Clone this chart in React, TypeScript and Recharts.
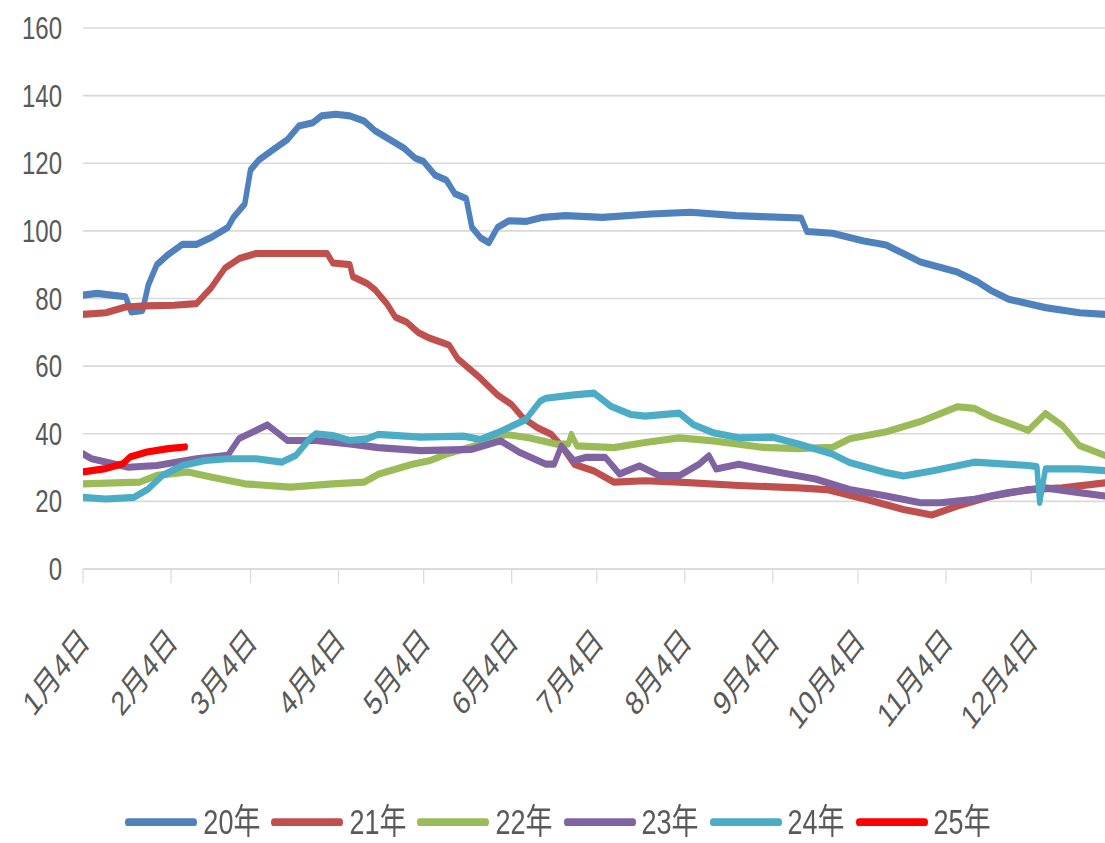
import React from 'react';
import { LineChart, Line, XAxis, YAxis, CartesianGrid } from 'recharts';

const FONT = '"Liberation Sans", Arial, "Noto Sans CJK SC", sans-serif';
const TEXT = '#595959';
const GRID = '#d9d9d9';

const W = 1105;
const H = 648;
const S = 843 / H;

// x = days since Jan 4
const monthTicks = [0, 31, 59, 90, 120, 151, 181, 212, 243, 273, 304, 334];
const monthLabels = ['1月4日', '2月4日', '3月4日', '4月4日', '5月4日', '6月4日', '7月4日', '8月4日', '9月4日', '10月4日', '11月4日', '12月4日'];
const yTicks = [0, 20, 40, 60, 80, 100, 120, 140, 160];

const seriesNames = ['20年', '21年', '22年', '23年', '24年', '25年'];
const seriesColors = ['#4F81BD', '#C0504D', '#9BBB59', '#8064A2', '#4BACC6', '#FF0000'];

const y20: [number, number][] = [
  [0, 81], [5, 81.5], [10, 81], [15, 80.5], [17, 76], [21, 76.5], [23, 84], [26, 90], [30, 93], [35, 96],
  [40, 96], [45, 98], [51, 101], [53, 104], [57, 108], [59, 118], [62, 121], [67, 124], [72, 127], [76, 131],
  [81, 132], [84, 134], [89, 134.5], [94, 134], [99, 132.5], [103, 129.5], [107, 127.5], [113, 124.5], [117, 121.5],
  [120, 120.5], [124, 116.5], [128, 115], [131, 111], [135, 109.5], [137, 101], [140, 98], [143, 96.5], [146, 101],
  [150, 103], [156, 102.8], [162, 104], [170, 104.5], [183, 104], [200, 105], [214, 105.5], [230, 104.5], [239, 104.2],
  [253, 103.8], [255, 99.8], [264, 99.3], [275, 97], [283, 95.8], [289, 93.3], [295, 90.8], [308, 87.8], [315, 85],
  [320, 82.3], [326, 79.8], [339, 77.3], [351, 75.8], [360, 75.3],
];

const y21: [number, number][] = [
  [0, 75.3], [8, 75.8], [15, 77.5], [22, 77.8], [32, 78], [40, 78.5], [45, 83], [50, 89], [55, 91.8], [61, 93.3],
  [70, 93.3], [80, 93.3], [86, 93.3], [88, 90.5], [94, 90], [95, 86.5], [100, 84.5], [103, 82.5], [107, 78.5],
  [110, 74.5], [114, 73], [118, 70], [122, 68.3], [129, 66.2], [132, 62.2], [140, 56.4], [146, 51.5], [151, 48.6],
  [155, 44.7], [160, 41.8], [165, 39.8], [168, 37], [173, 31], [180, 29], [187, 25.7], [198, 26.1], [210, 25.7],
  [231, 24.7], [252, 24], [262, 23.5], [276, 20.6], [289, 17.6], [299, 16], [308, 18.6], [320, 21.5], [333, 23.5],
  [345, 24], [360, 25.5],
];

const y22: [number, number][] = [
  [0, 25.2], [20, 25.7], [26, 27.7], [37, 28.7], [45, 27.2], [57, 25.2], [73, 24.2], [88, 25.2], [99, 25.7],
  [104, 28], [116, 31], [122, 32], [128, 34], [140, 36.9], [149, 39.8], [157, 38.8], [167, 36.9], [171, 37],
  [172, 39.8], [174, 36.4], [187, 35.9], [198, 37.4], [210, 38.8], [222, 37.9], [231, 36.9], [239, 36], [252, 35.6],
  [264, 36], [270, 38.5], [283, 40.6], [295, 43.6], [308, 48], [314, 47.5], [320, 45], [333, 41], [339, 46],
  [345, 42.4], [351, 36.5], [360, 33.6],
];

const y23: [number, number][] = [
  [0, 34.1], [3, 32.6], [16, 30.1], [26, 30.6], [40, 32.6], [51, 33.6], [55, 38.6], [65, 42.6], [72, 38], [82, 38],
  [94, 37], [104, 35.9], [119, 35], [137, 35.4], [147, 37.9], [154, 34.4], [163, 31], [166, 31], [168.5, 36.4],
  [173, 32], [177, 33], [184, 33], [189, 28.1], [196, 30.5], [203, 27.6], [210, 27.6], [217, 31], [220.5, 33.5],
  [223, 29.6], [231, 31], [245, 28.6], [258, 26.6], [270, 23.5], [283, 21.6], [295, 19.6], [302, 19.6], [314, 20.6],
  [326, 22.6], [339, 24], [351, 22.6], [360, 21.6],
];

const y24: [number, number][] = [
  [0, 21.2], [8, 20.7], [18, 21.2], [23, 23.7], [28, 27.7], [35, 30.6], [43, 32.1], [51, 32.6], [61, 32.6], [70, 31.6],
  [75, 33.6], [80, 38.6], [82, 40], [88, 39.5], [94, 38], [100, 38.5], [104, 39.8], [119, 39], [134, 39.3], [140, 38.3],
  [146, 40.3], [156, 44.2], [161, 49.6], [163, 50.5], [173, 51.5], [180, 52], [186, 48.1], [193, 45.7], [198, 45.2],
  [210, 46.1], [215, 42.7], [222, 40.3], [231, 38.8], [243, 39], [252, 37], [264, 34], [270, 31.5], [283, 28.5],
  [289, 27.5], [299, 29], [314, 31.6], [333, 30.6], [336, 30.3], [337, 19.7], [339, 29.6], [351, 29.6], [360, 29.1],
];

const y25: [number, number][] = [
  [0, 28.7], [8, 29.7], [14, 31.1], [16.5, 33.1], [22.5, 34.6], [30, 35.6], [36, 36.1],
];

const seriesPoints = [y20, y21, y22, y23, y24, y25];
const toRows = (pts: [number, number][]) => pts.map(([d, v]) => ({ d, v }));

const XTick = (props: any) => {
  const { x, y, payload } = props;
  const i = monthTicks.indexOf(payload.value);
  return (
    <g transform={`translate(${x + 8},${y + 44})`}>
      <text x={0} y={0} textAnchor="end" transform="rotate(-45)" fontSize={26} fill={TEXT} fontFamily={FONT}>
        {monthLabels[i]}
      </text>
    </g>
  );
};

export default function App() {
  return (
    <div
      style={{
        position: 'absolute',
        left: 0,
        top: 0,
        width: W,
        height: H,
        transform: `scaleY(${S})`,
        transformOrigin: '0 0',
        background: '#fff',
      }}
    >
      <LineChart width={W} height={H} margin={{ top: 21.5, right: 0, left: 0, bottom: 60.6 }}>
        <CartesianGrid vertical={false} stroke={GRID} strokeWidth={1.2} />
        <XAxis
          dataKey="d"
          type="number"
          domain={[0, 360]}
          ticks={monthTicks}
          interval={0}
          height={150}
          tickSize={11}
          axisLine={{ stroke: GRID, strokeWidth: 1.2 }}
          tickLine={{ stroke: GRID, strokeWidth: 1.2 }}
          tick={<XTick />}
          allowDataOverflow
        />
        <YAxis
          type="number"
          domain={[0, 160]}
          ticks={yTicks}
          interval={0}
          width={83}
          axisLine={false}
          tickLine={false}
          tickSize={0}
          tickMargin={21}
          tick={{ fontSize: 24, fill: TEXT, fontFamily: FONT }}
        />
        {seriesPoints.map((pts, i) => (
          <Line
            key={seriesNames[i]}
            name={seriesNames[i]}
            data={toRows(pts)}
            dataKey="v"
            type="linear"
            stroke={seriesColors[i]}
            strokeWidth={5.5}
            strokeLinejoin="round"
            strokeLinecap="round"
            dot={false}
            activeDot={false}
            isAnimationActive={false}
          />
        ))}
      </LineChart>
      <div
        style={{
          position: 'absolute',
          left: 0,
          top: 610,
          width: W,
          height: 44,
          paddingLeft: 11,
          boxSizing: 'border-box',
          display: 'flex',
          justifyContent: 'center',
          alignItems: 'center',
          fontFamily: FONT,
          fontSize: 27,
          color: TEXT,
          lineHeight: 1,
        }}
      >
        {seriesNames.map((n, i) => (
          <div key={n} style={{ display: 'flex', alignItems: 'center', marginRight: i < seriesNames.length - 1 ? 11 : 0 }}>
            <div style={{ width: 72, height: 6, borderRadius: 3, background: seriesColors[i], marginRight: 6 }} />
            <span style={{ whiteSpace: 'nowrap' }}>{n}</span>
          </div>
        ))}
      </div>
    </div>
  );
}
